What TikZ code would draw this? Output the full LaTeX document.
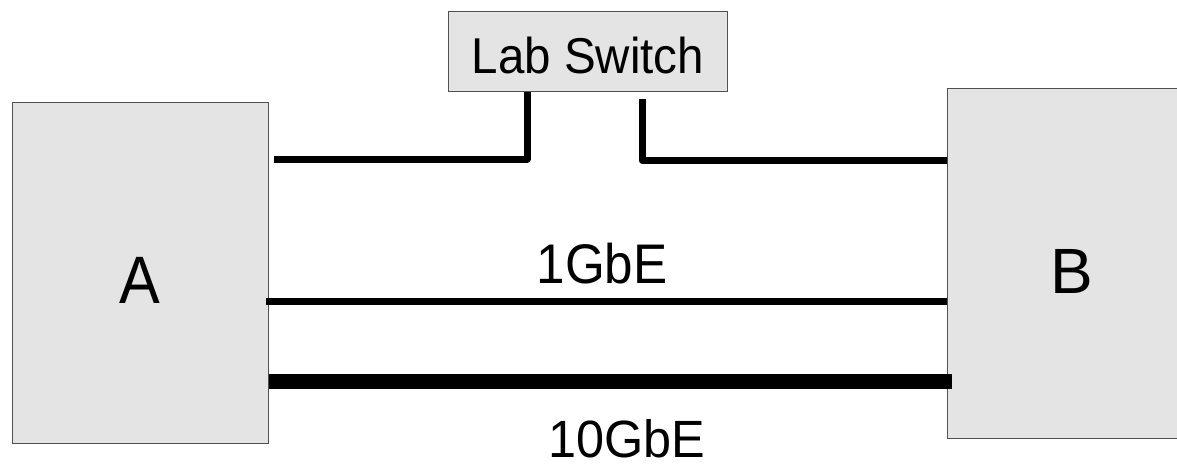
\documentclass[tikz,border=0pt]{standalone}
\usepackage{fontspec}
\usepackage{graphicx}
\setmainfont{Liberation Sans}
\definecolor{boxfill}{HTML}{E4E4E4}
\definecolor{boxline}{HTML}{505050}
\begin{document}
\begin{tikzpicture}[x=1pt,y=-1pt,
  box/.style={draw=boxline, fill=boxfill, line width=1pt, inner sep=0pt},
  link/.style={line width=7pt, line join=round},
  fat/.style={line width=15pt},
  lbl/.style={anchor=base, inner sep=0pt}]
\useasboundingbox (0,0) rectangle (1177,463);
\node[box, minimum width=256pt, minimum height=341pt] (A) at (140,272.5) {};
\node[box, minimum width=250pt, minimum height=350pt] (B) at (1072,263) {};
\node[box, minimum width=279pt, minimum height=80pt] (S) at (587.5,51) {};
\node[lbl, font=\fontsize{61}{70}\selectfont] (Alab) at (140,303) {\scalebox{1}[1.1]{A}};
\node[lbl, font=\fontsize{64}{70}\selectfont] (Blab) at (1072,293) {B};
\node[lbl, font=\fontsize{47.5}{60}\selectfont] (Slab) at (588,73) {\scalebox{1}[1.06]{Lab Switch}};
\node[lbl, font=\fontsize{51.2}{60}\selectfont] (g1lab) at (602,283) {\scalebox{1}[1.09]{1GbE}};
\node[lbl, font=\fontsize{50.4}{60}\selectfont] (g10lab) at (626.5,457) {\scalebox{1}[1.04]{10GbE}};
\coordinate (s1) at (274,159);
\coordinate (s2) at (642,99);
\coordinate (y1) at (0,301);
\coordinate (y10) at (0,381.7);
\draw[link] (s1) -| ([xshift=-60.5pt]S.south);
\draw[link] (s2) |- ([yshift=102.5pt]B.west);
\draw[link] ([xshift=-3pt]A.east |- y1) -- (B.west |- y1);
\draw[fat] (A.east |- y10) -- ([xshift=5pt]B.west |- y10);
\end{tikzpicture}
\end{document}
